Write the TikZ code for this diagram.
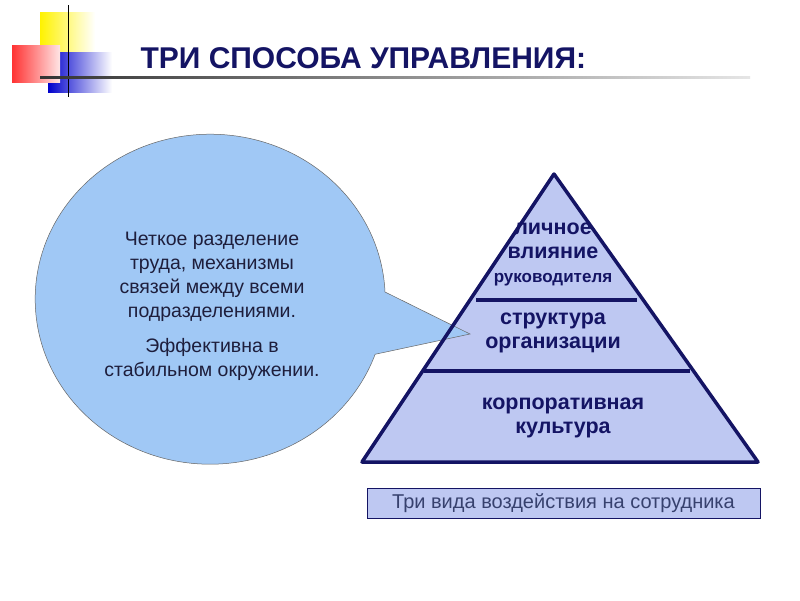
\documentclass[tikz,border=0pt]{standalone}
\usepackage{fontspec}
\setmainfont{Liberation Sans}
\begin{document}
\begin{tikzpicture}[x=1pt,y=-1pt,
  navy/.style={draw=navyc,line width=3.5pt,line join=round},
  ptext/.style={font=\bfseries\fontsize{21.5}{24}\selectfont,text=navyc,align=center},
  ctext/.style={font=\fontsize{19.5}{24}\selectfont,align=center,text=txtc}]
\definecolor{navyc}{RGB}{20,20,100}
\definecolor{txtc}{RGB}{30,30,60}
\definecolor{capc}{RGB}{55,65,110}
\definecolor{callc}{RGB}{160,200,245}
\definecolor{pyrc}{RGB}{190,200,242}
\useasboundingbox (0,0) rectangle (800,600);
\fill[white] (0,0) rectangle (800,600);
% logo
\shade[left color=yellow!90!orange, right color=white] (40,12) rectangle (95,58);
\shade[left color=blue!80!black, right color=white] (48,52) rectangle (112,92);
\shade[left color=red!80, right color=red!10] (12,45) rectangle (60,82);
\draw[black,line width=1pt] (68,5) -- (68,97);
\shade[left color=black!80, right color=black!10] (40,76.5) rectangle (750,78);
\node[font=\bfseries\fontsize{30}{32}\selectfont,text=navyc,anchor=west] (title) at (137,58) {ТРИ СПОСОБА УПРАВЛЕНИЯ:};
% pyramid fill
\coordinate (apex) at (554,174);
\coordinate (bl) at (362,462);
\coordinate (br) at (758,462);
\fill[pyrc] (apex) -- (bl) -- (br) -- cycle;
% callout
\draw[black!60,fill=callc,line width=0.5pt] (385,292) arc[start angle=-2.5,end angle=-340.5,x radius=175,y radius=165] -- (470,334) -- cycle;
\node[ctext] (ct1) at (212,277) {Четкое разделение\\труда, механизмы\\связей между всеми\\подразделениями.};
\node[ctext] (ct2) at (212,359) {Эффективна в\\стабильном окружении.};
% pyramid lines
\draw[navy] (476,300) -- (637,300);
\draw[navy] (424,371) -- (690,371);
\draw[navy] (apex) -- (bl) -- (br) -- cycle;
\node[ptext] (p1) at (553,254) {личное\\влияние\\{\fontsize{17}{19}\selectfont руководителя}};
\node[ptext] (p2) at (553,333) {структура\\организации};
\node[ptext] (p3) at (563,418) {корпоративная\\культура};
\node[draw=navyc,fill=pyrc,line width=0.8pt,minimum width=393pt,minimum height=30pt,inner sep=0pt,font=\fontsize{20}{22}\selectfont,text=capc] (cap) at (563.5,503) {Три вида воздействия на сотрудника};
\end{tikzpicture}
\end{document}
